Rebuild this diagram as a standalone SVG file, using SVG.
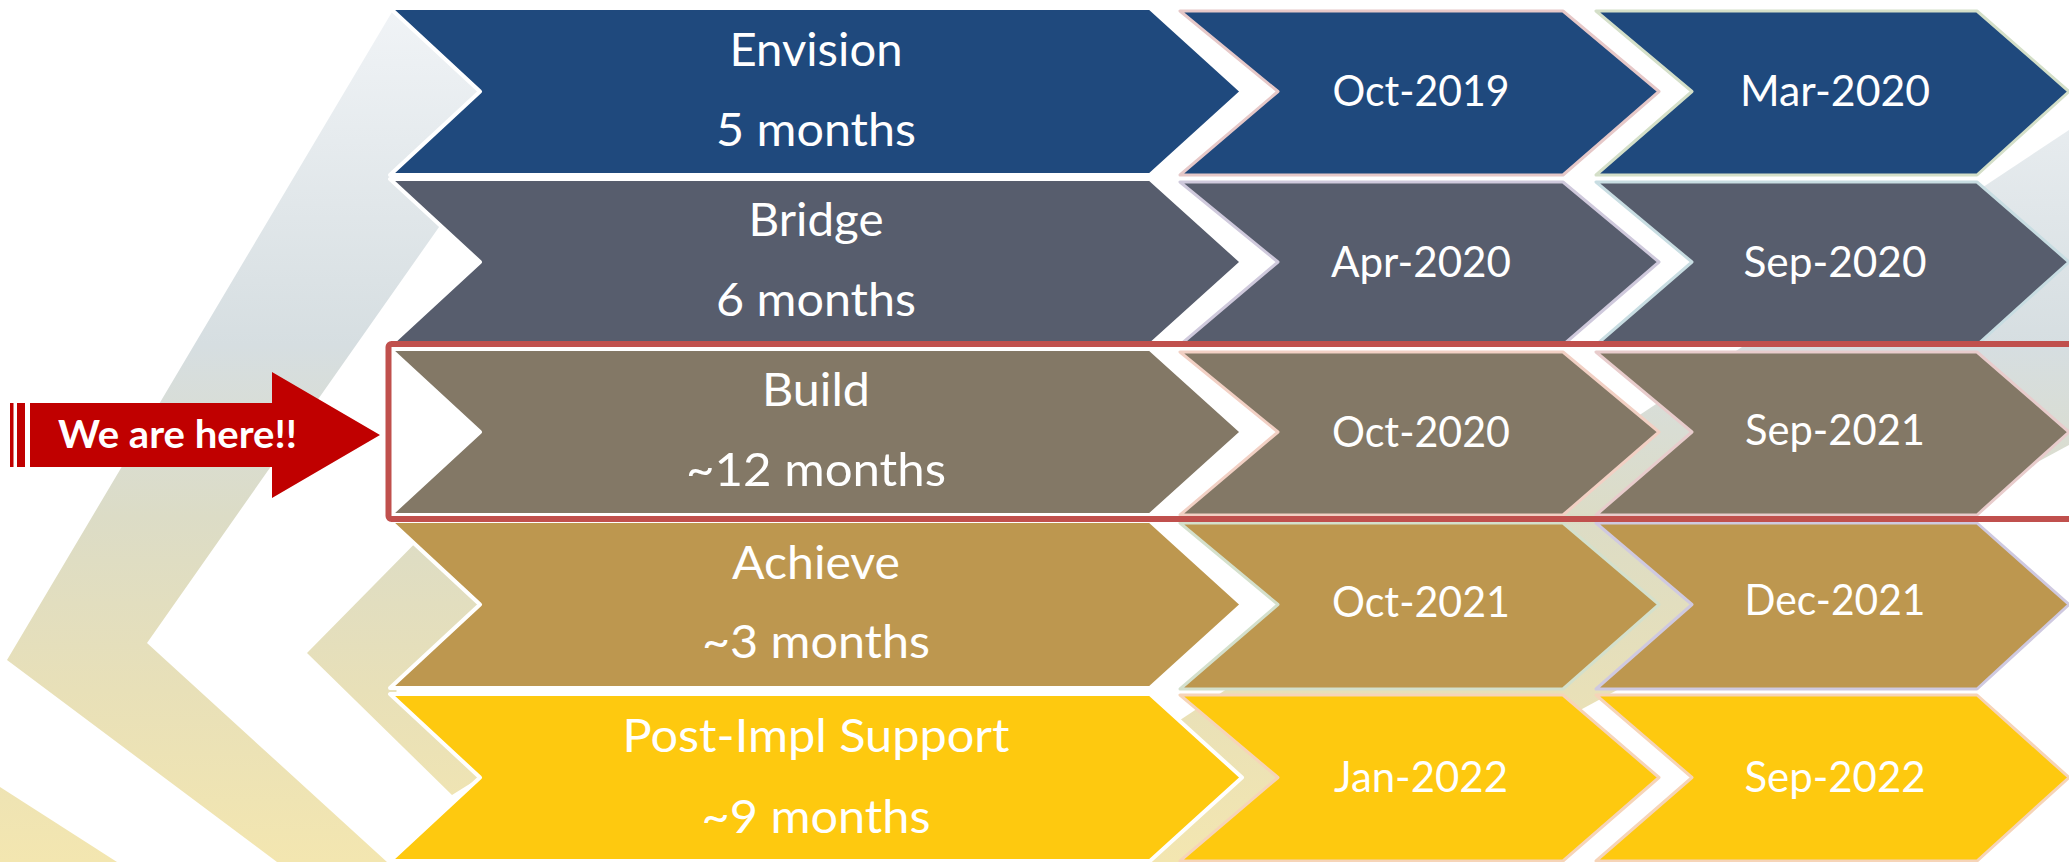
<svg xmlns="http://www.w3.org/2000/svg" width="2069" height="862" viewBox="0 0 2069 862">
<defs>
<linearGradient id="bg" gradientUnits="userSpaceOnUse" x1="0" y1="0" x2="0" y2="862">
<stop offset="0" stop-color="#f1f4f7"/>
<stop offset="0.4" stop-color="#d6dee1"/>
<stop offset="0.6" stop-color="#dcdcc6"/>
<stop offset="0.8" stop-color="#e8e0b8"/>
<stop offset="1" stop-color="#f3e6b0"/>
</linearGradient>
<style>
.main{stroke:#ffffff;stroke-width:4;stroke-linejoin:round}
.date{stroke-width:3;stroke-linejoin:round}
.t1{font-family:Lato,'Open Sans',sans-serif;font-size:47px;fill:#ffffff;text-anchor:middle}
.t2{font-family:Lato,'Open Sans',sans-serif;font-size:42px;fill:#ffffff;text-anchor:middle}
.c1{fill:#1f497d}.c2{fill:#575d6d}.c3{fill:#837866}.c4{fill:#bd974f}.c5{fill:#fec90f}
.band{fill:url(#bg)}
</style>
</defs>
<rect width="2069" height="862" fill="#ffffff"/>
<g id="background">
<polygon class="band" points="392,12 590,12 147,643 387,862 277,862 7,660"/>
<polygon class="band" points="440,518 307,653 452,795 480,777.5 396,691 480,604.5"/>
<polygon class="band" points="0,787 117,862 0,862"/>
<polygon class="band" points="2069,130 1150,740 1150,862 1300,862 2069,445"/>
</g>
<g id="connectors"></g>
<g id="node-envision">
<path class="main c1" d="M390,8 L1150,8 L1242,91.5 L1150,175 L390,175 L480,91.5 Z"/>
<text class="t1" x="816" y="66" textLength="173" lengthAdjust="spacingAndGlyphs">Envision</text>
<text class="t1" x="816" y="146" textLength="200" lengthAdjust="spacingAndGlyphs">5 months</text>
</g>
<g id="node-envision-start">
<path class="date c1" stroke="#e6c8c8" d="M1180,11 L1563,11 L1659,91.5 L1563,175 L1180,175 L1278,91.5 Z"/>
<text class="t2" x="1421" y="106" textLength="177" lengthAdjust="spacingAndGlyphs">Oct-2019</text>
</g>
<g id="node-envision-end">
<path class="date c1" stroke="#d4dfc8" d="M1596,11 L1977,11 L2069,91.5 L1977,175 L1596,175 L1692,91.5 Z"/>
<text class="t2" x="1835" y="106" textLength="190" lengthAdjust="spacingAndGlyphs">Mar-2020</text>
</g>
<g id="node-bridge">
<path class="main c2" d="M390,179 L1150,179 L1242,262 L1150,345 L390,345 L480,262 Z"/>
<text class="t1" x="816" y="236" textLength="135" lengthAdjust="spacingAndGlyphs">Bridge</text>
<text class="t1" x="816" y="316" textLength="200" lengthAdjust="spacingAndGlyphs">6 months</text>
</g>
<g id="node-bridge-start">
<path class="date c2" stroke="#cfc9dc" d="M1180,182 L1563,182 L1659,262 L1563,345 L1180,345 L1278,262 Z"/>
<text class="t2" x="1421" y="277" textLength="180" lengthAdjust="spacingAndGlyphs">Apr-2020</text>
</g>
<g id="node-bridge-end">
<path class="date c2" stroke="#c8dde2" d="M1596,182 L1977,182 L2069,262 L1977,345 L1596,345 L1692,262 Z"/>
<text class="t2" x="1835" y="277" textLength="183" lengthAdjust="spacingAndGlyphs">Sep-2020</text>
</g>
<g id="node-build">
<path class="main c3" d="M390,349 L1150,349 L1242,432 L1150,515 L390,515 L480,432 Z"/>
<text class="t1" x="816" y="406" textLength="108" lengthAdjust="spacingAndGlyphs">Build</text>
<text class="t1" x="816" y="486" textLength="260" lengthAdjust="spacingAndGlyphs">~12 months</text>
</g>
<g id="node-build-start">
<path class="date c3" stroke="#f2d0c4" d="M1180,352 L1563,352 L1659,432 L1563,515 L1180,515 L1278,432 Z"/>
<text class="t2" x="1421" y="447" textLength="178" lengthAdjust="spacingAndGlyphs">Oct-2020</text>
</g>
<g id="node-build-end">
<path class="date c3" stroke="#e8cccc" d="M1596,352 L1977,352 L2069,432 L1977,515 L1596,515 L1692,432 Z"/>
<text class="t2" x="1835" y="445" textLength="180" lengthAdjust="spacingAndGlyphs">Sep-2021</text>
</g>
<g id="node-achieve">
<path class="main c4" d="M390,521 L1150,521 L1242,604.5 L1150,688 L390,688 L480,604.5 Z"/>
<text class="t1" x="816" y="579" textLength="168" lengthAdjust="spacingAndGlyphs">Achieve</text>
<text class="t1" x="816" y="658" textLength="228" lengthAdjust="spacingAndGlyphs">~3 months</text>
</g>
<g id="node-achieve-start">
<path class="date c4" stroke="#d4e0cc" d="M1180,523 L1563,523 L1659,604.5 L1563,689 L1180,689 L1278,604.5 Z"/>
<text class="t2" x="1421" y="617" textLength="178" lengthAdjust="spacingAndGlyphs">Oct-2021</text>
</g>
<g id="node-achieve-end">
<path class="date c4" stroke="#cfc9e0" d="M1596,523 L1977,523 L2069,604.5 L1977,689 L1596,689 L1692,604.5 Z"/>
<text class="t2" x="1835" y="615" textLength="181" lengthAdjust="spacingAndGlyphs">Dec-2021</text>
</g>
<g id="node-post-impl">
<path class="main c5" d="M390,694 L1150,694 L1242,777.5 L1150,861 L390,861 L480,777.5 Z"/>
<text class="t1" x="816" y="752" textLength="387" lengthAdjust="spacingAndGlyphs">Post-Impl Support</text>
<text class="t1" x="816" y="833" textLength="229" lengthAdjust="spacingAndGlyphs">~9 months</text>
</g>
<g id="node-post-impl-start">
<path class="date c5" stroke="#f6d4b8" d="M1180,695 L1563,695 L1659,777.5 L1563,861 L1180,861 L1278,777.5 Z"/>
<text class="t2" x="1421" y="792" textLength="174" lengthAdjust="spacingAndGlyphs">Jan-2022</text>
</g>
<g id="node-post-impl-end">
<path class="date c5" stroke="#f6d4b8" d="M1596,695 L1977,695 L2069,777.5 L1977,861 L1596,861 L1692,777.5 Z"/>
<text class="t2" x="1835" y="792" textLength="181" lengthAdjust="spacingAndGlyphs">Sep-2022</text>
</g>
<g id="node-current-highlight">
<rect x="388.5" y="344" width="1700" height="175" rx="3" fill="none" stroke="#c0504d" stroke-width="6"/>
</g>
<g id="node-we-are-here">
<rect x="10" y="403" width="3.5" height="64" fill="#c00000"/>
<rect x="17" y="403" width="8" height="64" fill="#c00000"/>
<polygon points="30,403 272,403 272,372 380,435 272,498 272,467 30,467" fill="#c00000"/>
<text x="58" y="448" font-family="Lato,'Open Sans',sans-serif" font-weight="bold" font-size="39" fill="#ffffff" textLength="239" lengthAdjust="spacingAndGlyphs">We are here!!</text>
</g>
</svg>
